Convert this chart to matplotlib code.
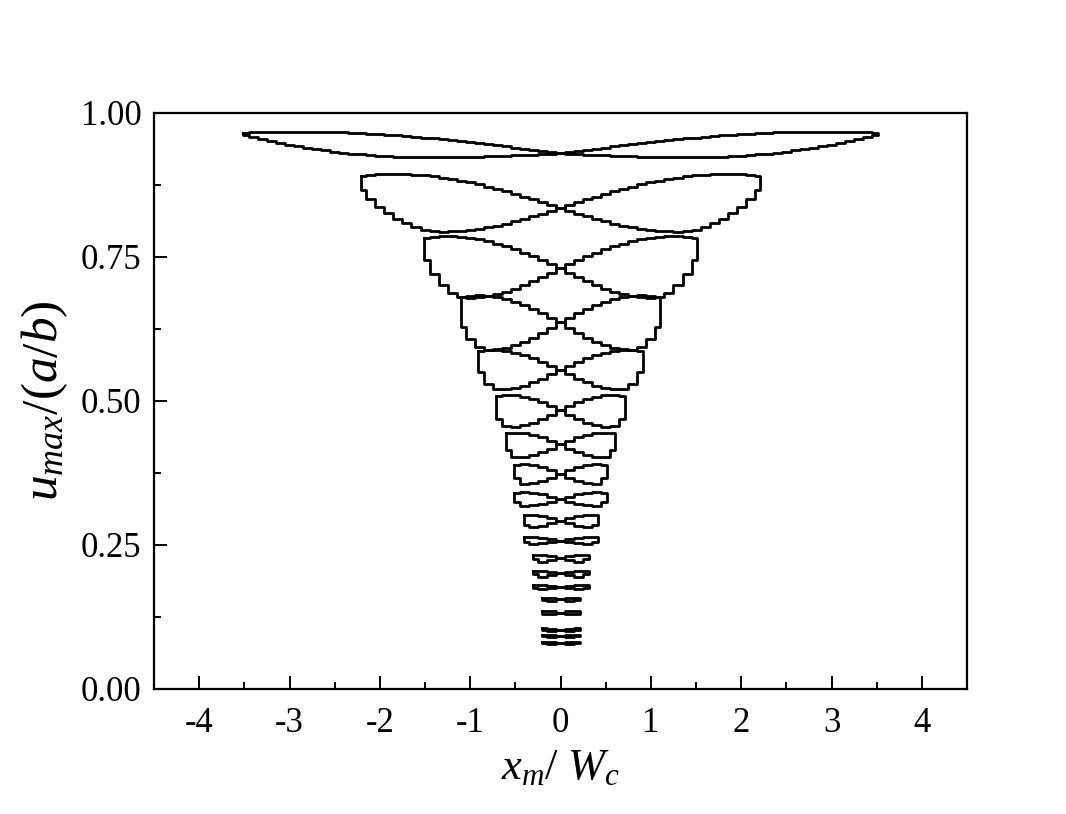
import numpy as np
import matplotlib.pyplot as plt
from matplotlib.ticker import MultipleLocator, FormatStrFormatter

plt.rcParams['font.family'] = 'Liberation Serif'
plt.rcParams['mathtext.fontset'] = 'custom'
plt.rcParams['mathtext.rm'] = 'Liberation Serif'
plt.rcParams['mathtext.it'] = 'Liberation Serif:italic'
plt.rcParams['axes.unicode_minus'] = False

# one entry per loop (top loop first)
y_cross = [0.930, 0.835, 0.731, 0.637, 0.554, 0.484, 0.425, 0.374, 0.329, 0.292,
           0.257, 0.227, 0.201, 0.177, 0.156, 0.132, 0.103, 0.092, 0.080]  # centre crossing
half_w = [3.51, 2.21, 1.51, 1.10, 0.91, 0.71, 0.60, 0.51, 0.51, 0.41,
          0.41, 0.31, 0.31, 0.31, 0.21, 0.21, 0.21, 0.21, 0.21]  # outer end |x|
y_top = [0.966, 0.891, 0.783, 0.681, 0.587, 0.509, 0.444, 0.389, 0.341, 0.302,
         0.263, 0.233, 0.205, 0.180, 0.158, 0.135, 0.105, 0.094, 0.082]  # top corner
y_edge = [0.962, 0.866, 0.745, 0.628, 0.551, 0.468, 0.415, 0.366, 0.325, 0.285,
          0.256, 0.225, 0.199, 0.176, 0.155, 0.131, 0.103, 0.092, 0.080]  # bottom of outer edge
y_low = [0.923, 0.794, 0.679, 0.589, 0.520, 0.455, 0.402, 0.356, 0.318, 0.282,
         0.252, 0.221, 0.195, 0.173, 0.152, 0.129, 0.101, 0.090, 0.078]  # lowest point of lobe
u_low = [0.42, 0.59, 0.68, 0.72, 0.75, 0.78, 0.78, 0.80, 0.80, 0.80,
         0.80, 0.80, 0.80, 0.80, 0.80, 0.80, 0.80, 0.80, 0.80]  # where the low point sits (fraction of half width)

dx = 0.1  # grid step in x_m/W_c

fig = plt.figure(figsize=(10.66, 8.14), dpi=100)
ax = fig.add_axes([0.1445, 0.1536, 0.7627, 0.7076])

for c, L, yt, ye, yl, um in zip(y_cross, half_w, y_top, y_edge, y_low, u_low):
    n = int(L / dx + 1e-6)
    xs = np.arange(-n, n + 1) * dx
    u = np.abs(xs) / (n * dx)
    top = c + (yt - c) * np.sin(0.6 * np.pi * u) / np.sin(0.6 * np.pi)
    bot = np.where(u <= um, c - (c - yl) * np.sin(0.5 * np.pi * np.minimum(u / um, 1)),
                   yl + (ye - yl) * (np.maximum(u - um, 0) / (1 - um)) ** 2)
    curve1 = np.where(xs < 0, top, bot)
    curve2 = curve1[::-1]
    edges = np.concatenate([[-L], (xs[:-1] + xs[1:]) / 2, [L]])
    X = np.repeat(edges, 2)[1:-1]
    Y1 = np.repeat(curve1, 2)
    Y2 = np.repeat(curve2, 2)
    Xall = np.concatenate([X, X[::-1], X[:1]])
    Yall = np.concatenate([Y1, Y2[::-1], Y1[:1]])
    ax.plot(Xall, Yall, 'k-', lw=2.0)

ax.set_xlim(-4.5, 4.5)
ax.set_ylim(0, 1)
ax.xaxis.set_major_locator(MultipleLocator(1))
ax.xaxis.set_minor_locator(MultipleLocator(0.5))
ax.yaxis.set_major_locator(MultipleLocator(0.25))
ax.yaxis.set_minor_locator(MultipleLocator(0.125))
ax.yaxis.set_major_formatter(FormatStrFormatter('%.2f'))
ax.tick_params(which='both', direction='in', top=False, right=False, width=1.4, labelsize=25)
ax.tick_params(which='major', length=9.5)
ax.tick_params(which='minor', length=5)
ax.tick_params(axis='y', pad=9)
ax.tick_params(axis='x', pad=13)
for s in ax.spines.values():
    s.set_linewidth(1.6)

ax.set_xlabel(r'$x_m/\ W_c$', fontsize=32, labelpad=6)
ax.set_ylabel(r'$u_{max}/(a/b)$', fontsize=37, labelpad=8)

fig.savefig('out.png', dpi=100)
